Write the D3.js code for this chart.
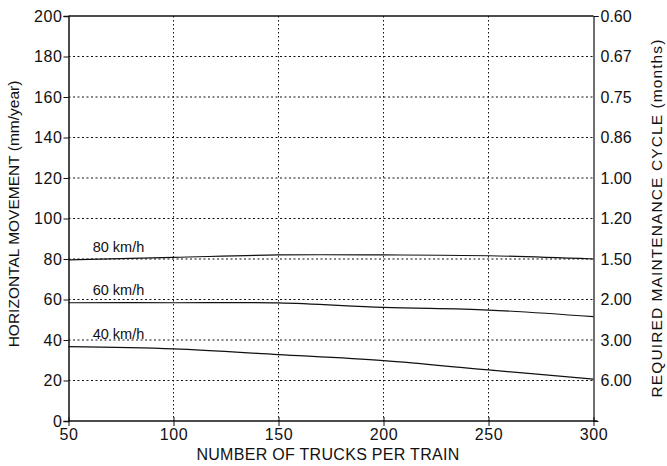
<!DOCTYPE html>
<html>
<head>
<meta charset="utf-8">
<script src="https://cdn.jsdelivr.net/npm/d3@7.9.0/dist/d3.min.js"></script>
<style>
  body { margin: 0; background: #fff; }
  svg { display: block; font-family: "Liberation Sans", Arial, sans-serif; }
  .grid line { stroke: #111; stroke-width: 1; }
  .axis path, .axis line { stroke: #111; }
  .axis text { fill: #111; font-size: 16px; }
</style>
</head>
<body>
<svg id="chart" width="667" height="466"></svg>
<script>
// data
const trucks = [50, 100, 150, 200, 250, 300];
const speed80 = [79.6, 80.8, 82, 82, 81.6, 80];
const speed60 = [58.4, 58.4, 58.3, 56.1, 54.8, 51.5];
const speed40 = [36.7, 35.6, 32.8, 29.8, 25.2, 20.7];
const seriesLabels = ["80 km/h", "60 km/h", "40 km/h"];
const movementTicks = [0, 20, 40, 60, 80, 100, 120, 140, 160, 180, 200];
const cycleTicks = [200, 180, 160, 140, 120, 100, 80, 60, 40, 20];
const cycleLabels = ["0.60", "0.67", "0.75", "0.86", "1.00", "1.20", "1.50", "2.00", "3.00", "6.00"];

const margin = { top: 16, right: 73.5, bottom: 45, left: 68.5 };
const width = 667 - margin.left - margin.right;
const height = 466 - margin.top - margin.bottom;

const svg = d3.select("#chart");
const g = svg.append("g").attr("transform", `translate(${margin.left},${margin.top})`);

const x = d3.scaleLinear().domain([50, 300]).range([0, width]);
const y = d3.scaleLinear().domain([0, 200]).range([height, 0]);

// grid
g.append("g").attr("class", "grid")
  .selectAll("line")
  .data(movementTicks.filter(d => d > 0 && d < 200))
  .join("line")
  .attr("x1", 0).attr("x2", width)
  .attr("y1", d => y(d)).attr("y2", d => y(d))
  .attr("stroke-dasharray", "2,2.5");

g.append("g").attr("class", "grid")
  .selectAll("line")
  .data(trucks.filter(d => d > 50 && d < 300))
  .join("line")
  .attr("x1", d => x(d)).attr("x2", d => x(d))
  .attr("y1", 0).attr("y2", height)
  .attr("stroke-width", 1.6)
  .attr("stroke-dasharray", "1.5,2.5");

// top border
g.append("line")
  .attr("x1", 0).attr("x2", width)
  .attr("y1", 0).attr("y2", 0)
  .attr("stroke", "#111").attr("stroke-width", 1.5);

// axes
g.append("g").attr("class", "axis")
  .call(d3.axisLeft(y).tickValues(movementTicks).tickSize(5).tickPadding(1))
  .call(a => a.select(".domain").attr("stroke-width", 1.5))
  .call(a => a.selectAll(".tick text").attr("letter-spacing", 0.6));

g.append("g").attr("class", "axis")
  .attr("transform", `translate(0,${height})`)
  .call(d3.axisBottom(x).tickValues(trucks).tickSize(5).tickPadding(3))
  .call(a => a.select(".domain").attr("stroke-width", 1.5).attr("d", `M0,0H${width + 4}`))
  .call(a => a.selectAll(".tick line").attr("y1", -4))
  .call(a => a.selectAll(".tick text").attr("letter-spacing", 0.6));

const right = g.append("g").attr("class", "axis")
  .attr("transform", `translate(${width},0)`)
  .call(d3.axisRight(y).tickValues(cycleTicks)
    .tickFormat((d, i) => cycleLabels[i]).tickSize(5).tickPadding(2))
  .call(a => a.select(".domain").attr("stroke-width", 1.2));
right.selectAll(".tick line").attr("opacity", (d, i) => i === 0 ? 1 : 0);
right.selectAll(".tick text").attr("font-size", 15).attr("fill", "#222");

// lines
const line = d3.line()
  .x((d, i) => x(trucks[i]))
  .y(d => y(d))
  .curve(d3.curveCatmullRom.alpha(0.5));

const series = [speed80, speed60, speed40];
g.selectAll(".series")
  .data(series)
  .join("path")
  .attr("class", "series")
  .attr("d", line)
  .attr("fill", "none")
  .attr("stroke", "#111")
  .attr("stroke-width", 1.2);

g.selectAll(".series-label")
  .data(series)
  .join("text")
  .attr("class", "series-label")
  .attr("x", x(61.5))
  .attr("y", d => y(d[0]) - 8)
  .attr("font-size", 14.5)
  .attr("fill", "#111")
  .text((d, i) => seriesLabels[i]);

// axis titles
svg.append("text")
  .attr("x", margin.left + width / 2 - 3)
  .attr("y", 460)
  .attr("text-anchor", "middle")
  .attr("font-size", 16)
  .attr("letter-spacing", 0.3)
  .attr("fill", "#111")
  .text("NUMBER OF TRUCKS PER TRAIN");

svg.append("text")
  .attr("transform", "translate(19,214) rotate(-90)")
  .attr("text-anchor", "middle")
  .attr("font-size", 15.5)
  .attr("fill", "#111")
  .text("HORIZONTAL MOVEMENT (mm/year)");

svg.append("text")
  .attr("transform", "translate(662,218) rotate(-90)")
  .attr("text-anchor", "middle")
  .attr("font-size", 15.5)
  .attr("letter-spacing", 1.1)
  .attr("fill", "#111")
  .text("REQUIRED MAINTENANCE CYCLE (months)");
</script>
</body>
</html>
